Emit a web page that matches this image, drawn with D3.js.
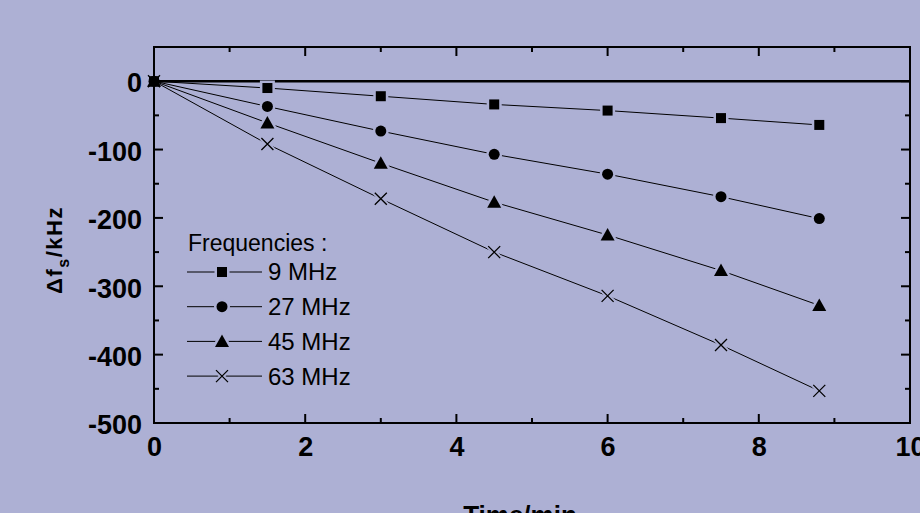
<!DOCTYPE html>
<html>
<head>
<meta charset="utf-8">
<script src="https://cdn.jsdelivr.net/npm/d3@7"></script>
<style>
  body { margin: 0; background: #adb0d4; }
  svg { display: block; font-family: Arial, "Liberation Sans", sans-serif; }
</style>
</head>
<body>
<div id="chart"></div>
<script>
// time points (min) shared by every series
const times = [0, 1.5, 3, 4.5, 6, 7.5, 8.8];

// frequency shift (kHz) for each overtone
const f9 = [0, -10, -22, -34, -43, -54, -64];
const f27 = [0, -37, -73, -107, -136, -169, -201];
const f45 = [0, -61, -120, -177, -225, -277, -328];
const f63 = [0, -92, -172, -250, -314, -386, -453];

const seriesNames = ["9 MHz", "27 MHz", "45 MHz", "63 MHz"];
const seriesValues = [f9, f27, f45, f63];
const seriesSymbols = ["square", "circle", "triangle", "cross"];

const xTicks = [0, 2, 4, 6, 8, 10];
const yTicks = [0, -100, -200, -300, -400, -500];

const bg = "#adb0d4";
const W = 920, H = 513;
const margin = { top: 47, right: 10, bottom: 90, left: 154 };
const width = W - margin.left - margin.right,
      height = H - margin.top - margin.bottom;

const svg = d3.select("#chart").append("svg")
  .attr("width", W).attr("height", H);
svg.append("rect").attr("width", W).attr("height", H).attr("fill", bg);

const g = svg.append("g").attr("transform", `translate(${margin.left},${margin.top})`);

const x = d3.scaleLinear().domain([0, 10]).range([0, width]);
const y = d3.scaleLinear().domain([-500, 50]).range([height, 0]);

// minor + major ticks, pointing inward on all four sides
function tickAxes() {
  const minorX = d3.range(0, 10.01, 1);
  const minorY = d3.range(-500, 50.01, 50);
  const tk = g.append("g").attr("stroke", "#000").attr("stroke-width", 2);
  minorX.forEach(v => {
    const len = v % 2 === 0 ? 9 : 5;
    tk.append("line").attr("x1", x(v)).attr("x2", x(v)).attr("y1", height).attr("y2", height - len);
    tk.append("line").attr("x1", x(v)).attr("x2", x(v)).attr("y1", 0).attr("y2", len);
  });
  minorY.forEach(v => {
    const len = v % 100 === 0 ? 9 : 5;
    tk.append("line").attr("y1", y(v)).attr("y2", y(v)).attr("x1", 0).attr("x2", len);
    tk.append("line").attr("y1", y(v)).attr("y2", y(v)).attr("x1", width).attr("x2", width - len);
  });
}
tickAxes();

// tick labels via d3 axes (tick lines hidden, we drew our own)
const xAxis = g.append("g")
  .attr("transform", `translate(0,${height})`)
  .call(d3.axisBottom(x).tickValues(xTicks).tickSize(0).tickPadding(14).tickFormat(d => String(d)));
const yAxis = g.append("g")
  .call(d3.axisLeft(y).tickValues(yTicks).tickSize(0).tickPadding(12).tickFormat(d => String(d)));
[xAxis, yAxis].forEach(a => {
  a.select(".domain").remove();
  a.selectAll("text")
    .attr("font-family", "Arial, 'Liberation Sans', sans-serif")
    .attr("font-size", 27).attr("font-weight", "bold").attr("fill", "#000");
});
xAxis.selectAll("text").attr("dy", "0.71em");
yAxis.selectAll("text").attr("dy", "0.4em");

// frame
g.append("rect").attr("width", width).attr("height", height)
  .attr("fill", "none").attr("stroke", "#000").attr("stroke-width", 2);

// zero line
g.append("line").attr("x1", 0).attr("x2", width).attr("y1", y(0)).attr("y2", y(0))
  .attr("stroke", "#000").attr("stroke-width", 2.5);

const line = d3.line().x((d, i) => x(times[i])).y(d => y(d));

function drawSymbol(sel, type, cx, cy, halo) {
  const s = sel.append("g").attr("transform", `translate(${cx},${cy})`);
  const stroke = halo ? bg : "none";
  const sw = halo ? 5 : 0;
  if (type === "square") {
    s.append("rect").attr("x", -5).attr("y", -5).attr("width", 10).attr("height", 10)
      .attr("fill", halo ? bg : "#000").attr("stroke", stroke).attr("stroke-width", sw);
  } else if (type === "circle") {
    s.append("circle").attr("r", 5.5).attr("fill", halo ? bg : "#000")
      .attr("stroke", stroke).attr("stroke-width", sw);
  } else if (type === "triangle") {
    s.append("path").attr("d", "M0,-7L7,5.5L-7,5.5Z").attr("fill", halo ? bg : "#000")
      .attr("stroke", stroke).attr("stroke-width", sw);
  } else {
    s.append("path").attr("d", "M-6,-6L6,6M-6,6L6,-6")
      .attr("stroke", halo ? bg : "#000").attr("stroke-width", halo ? 5 : 1.3).attr("fill", "none");
  }
}

seriesValues.forEach((vals, k) => {
  g.append("path").datum(vals).attr("d", line)
    .attr("fill", "none").attr("stroke", "#000").attr("stroke-width", 1);
});
seriesValues.forEach((vals, k) => {
  vals.forEach((v, i) => { if (i > 0) drawSymbol(g, seriesSymbols[k], x(times[i]), y(v), true); });
});
seriesValues.forEach((vals, k) => {
  vals.forEach((v, i) => drawSymbol(g, seriesSymbols[k], x(times[i]), y(v), false));
});

// legend
const lg = svg.append("g").attr("transform", "translate(188,243)");
lg.append("text").attr("x", 0).attr("y", 0).attr("dy", "0.35em")
  .attr("font-size", 23).text("Frequencies :");
seriesNames.forEach((name, k) => {
  const yy = 29 + k * 34.7;
  lg.append("line").attr("x1", -1).attr("x2", 74).attr("y1", yy).attr("y2", yy)
    .attr("stroke", "#000").attr("stroke-width", 1);
  drawSymbol(lg, seriesSymbols[k], 34, yy, true);
  drawSymbol(lg, seriesSymbols[k], 34, yy, false);
  lg.append("text").attr("x", 80).attr("y", yy).attr("dy", "0.35em")
    .attr("font-size", 24).text(name);
});

// axis titles
svg.append("text").attr("transform", "translate(62,250) rotate(-90)")
  .attr("text-anchor", "middle").attr("font-size", 22).attr("font-weight", "bold")
  .attr("letter-spacing", 1.5)
  .call(t => {
    t.append("tspan").text("\u0394f");
    t.append("tspan").attr("font-size", 16).attr("dy", 7).text("s");
    t.append("tspan").attr("dy", -7).text("/kHz");
  });
svg.append("text").attr("x", 520).attr("y", 524).attr("text-anchor", "middle")
  .attr("font-size", 26).attr("font-weight", "bold").text("Time/min");
</script>
</body>
</html>
